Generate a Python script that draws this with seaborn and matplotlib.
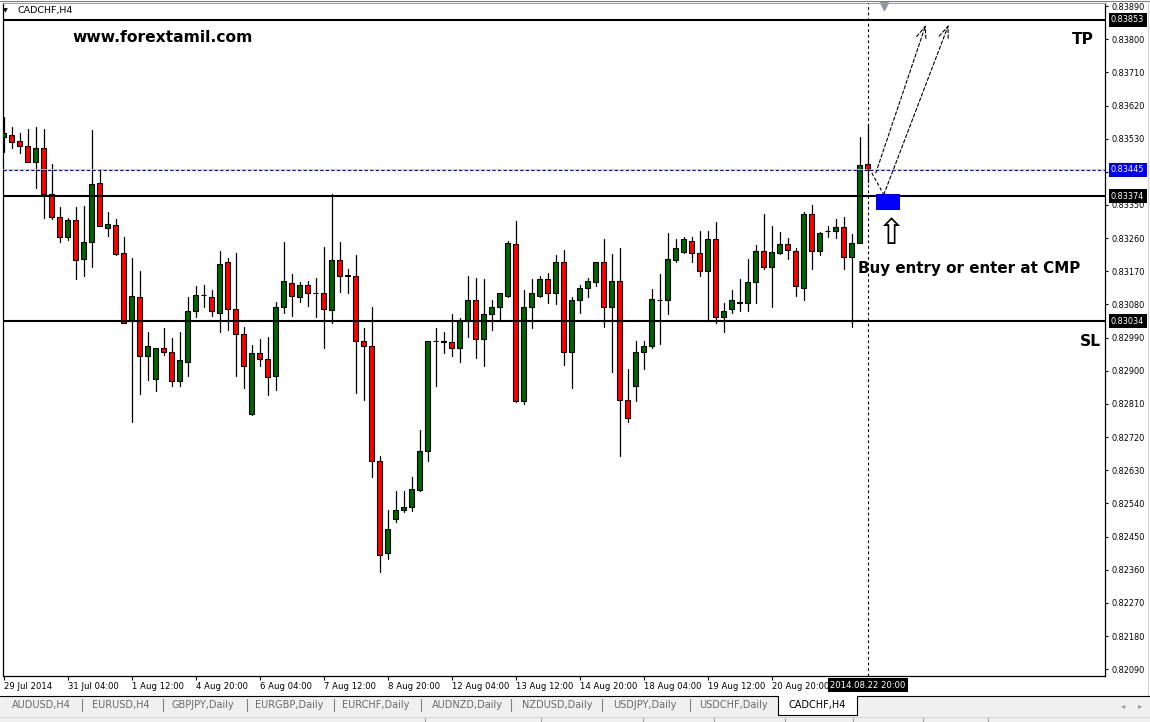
import numpy as np
import pandas as pd
import matplotlib
matplotlib.use("Agg")
import matplotlib.pyplot as plt
import matplotlib.transforms as mtransforms
from matplotlib.patches import Rectangle
from matplotlib.lines import Line2D
import seaborn as sns

# CADCHF H4 candles (first one is cut by the left edge)
opens = [0.83535, 0.83540, 0.83524, 0.83511, 0.83467, 0.83505, 0.83381, 0.83318, 0.83264, 0.83310,
         0.83204, 0.83250, 0.83410, 0.83288, 0.83297, 0.83221, 0.83034, 0.83101, 0.82939, 0.82879,
         0.82963, 0.82950, 0.82871, 0.82925, 0.83061, 0.83107, 0.83101, 0.83058, 0.83194, 0.83069,
         0.83001, 0.82784, 0.82947, 0.82933, 0.82885, 0.83074, 0.83139, 0.83099, 0.83134, 0.83110,
         0.83110, 0.83066, 0.83202, 0.83161, 0.83156, 0.82982, 0.82966, 0.82654, 0.82405, 0.82497,
         0.82521, 0.82530, 0.82576, 0.82681, 0.82982, 0.82977, 0.82977, 0.82963, 0.83034, 0.83093,
         0.82985, 0.83055, 0.83072, 0.83104, 0.83245, 0.82817, 0.83072, 0.83104, 0.83148, 0.83110,
         0.83194, 0.82952, 0.83091, 0.83126, 0.83142, 0.83194, 0.83072, 0.83145, 0.82822, 0.82858,
         0.82950, 0.82966, 0.83093, 0.83091, 0.83202, 0.83223, 0.83253, 0.83221, 0.83172, 0.83259,
         0.83045, 0.83069, 0.83088, 0.83085, 0.83142, 0.83226, 0.83183, 0.83221, 0.83245, 0.83226,
         0.83126, 0.83326, 0.83226, 0.83280, 0.83280, 0.83291, 0.83210, 0.83248, 0.83462]
highs = [0.83589, 0.83562, 0.83546, 0.83557, 0.83562, 0.83557, 0.83462, 0.83345, 0.83316, 0.83345,
         0.83348, 0.83554, 0.83448, 0.83332, 0.83313, 0.83264, 0.83207, 0.83172, 0.83004, 0.82963,
         0.83015, 0.82990, 0.83004, 0.83099, 0.83129, 0.83134, 0.83118, 0.83226, 0.83207, 0.83221,
         0.83020, 0.82969, 0.82985, 0.82993, 0.83088, 0.83250, 0.83164, 0.83142, 0.83145, 0.83153,
         0.83237, 0.83381, 0.83250, 0.83177, 0.83215, 0.83015, 0.83074, 0.82668, 0.82521, 0.82573,
         0.82573, 0.82611, 0.82738, 0.82982, 0.83015, 0.83004, 0.83055, 0.83042, 0.83156, 0.83153,
         0.83148, 0.83093, 0.83110, 0.83253, 0.83307, 0.83118, 0.83148, 0.83156, 0.83166, 0.83215,
         0.83229, 0.83101, 0.83134, 0.83153, 0.83196, 0.83259, 0.83218, 0.83232, 0.82904, 0.82982,
         0.82982, 0.83123, 0.83164, 0.83275, 0.83259, 0.83264, 0.83264, 0.83280, 0.83280, 0.83305,
         0.83085, 0.83120, 0.83150, 0.83204, 0.83242, 0.83326, 0.83294, 0.83278, 0.83261, 0.83234,
         0.83332, 0.83351, 0.83278, 0.83294, 0.83313, 0.83318, 0.83272, 0.83535, 0.83568]
lows = [0.83494, 0.83505, 0.83492, 0.83467, 0.83397, 0.83316, 0.83313, 0.83250, 0.83256, 0.83148,
        0.83158, 0.83183, 0.83294, 0.83267, 0.83215, 0.83031, 0.82760, 0.82836, 0.82874, 0.82844,
        0.82942, 0.82858, 0.82860, 0.82887, 0.83047, 0.83074, 0.83050, 0.83004, 0.83012, 0.82887,
        0.82852, 0.82779, 0.82912, 0.82833, 0.82847, 0.83058, 0.83050, 0.83088, 0.83077, 0.83047,
        0.82963, 0.83031, 0.83115, 0.83112, 0.82841, 0.82820, 0.82611, 0.82353, 0.82389, 0.82489,
        0.82516, 0.82519, 0.82573, 0.82654, 0.82860, 0.82947, 0.82939, 0.82923, 0.82993, 0.82936,
        0.82914, 0.83012, 0.83039, 0.83101, 0.82814, 0.82811, 0.83017, 0.83101, 0.83085, 0.83080,
        0.82917, 0.82852, 0.83058, 0.83099, 0.83131, 0.83020, 0.82898, 0.82668, 0.82760, 0.82817,
        0.82904, 0.82963, 0.82974, 0.83053, 0.83196, 0.83221, 0.83194, 0.83158, 0.83034, 0.83031,
        0.83004, 0.83058, 0.83061, 0.83063, 0.83085, 0.83177, 0.83072, 0.83218, 0.83204, 0.83104,
        0.83091, 0.83177, 0.83213, 0.83264, 0.83261, 0.83177, 0.83020, 0.83248, 0.83413]
closes = [0.83546, 0.83521, 0.83511, 0.83467, 0.83505, 0.83381, 0.83318, 0.83264, 0.83310, 0.83202,
          0.83250, 0.83408, 0.83294, 0.83299, 0.83218, 0.83031, 0.83104, 0.82939, 0.82966, 0.82963,
          0.82950, 0.82871, 0.82928, 0.83061, 0.83107, 0.83106, 0.83061, 0.83191, 0.83069, 0.83001,
          0.82912, 0.82947, 0.82931, 0.82882, 0.83074, 0.83145, 0.83104, 0.83134, 0.83112, 0.83110,
          0.83069, 0.83202, 0.83158, 0.83156, 0.82980, 0.82966, 0.82654, 0.82400, 0.82470, 0.82521,
          0.82530, 0.82578, 0.82681, 0.82982, 0.82982, 0.82980, 0.82963, 0.83036, 0.83093, 0.82985,
          0.83055, 0.83072, 0.83110, 0.83248, 0.82817, 0.83072, 0.83110, 0.83148, 0.83110, 0.83194,
          0.82950, 0.83093, 0.83126, 0.83145, 0.83194, 0.83072, 0.83145, 0.82822, 0.82771, 0.82950,
          0.82966, 0.83096, 0.83093, 0.83204, 0.83232, 0.83259, 0.83221, 0.83172, 0.83259, 0.83045,
          0.83061, 0.83091, 0.83085, 0.83142, 0.83226, 0.83183, 0.83223, 0.83245, 0.83229, 0.83129,
          0.83326, 0.83226, 0.83275, 0.83280, 0.83291, 0.83210, 0.83248, 0.83459, 0.83445]

time_labels = ['29 Jul 2014', '31 Jul 04:00', '1 Aug 12:00', '4 Aug 20:00', '6 Aug 04:00',
               '7 Aug 12:00', '8 Aug 20:00', '12 Aug 04:00', '13 Aug 12:00', '14 Aug 20:00',
               '18 Aug 04:00', '19 Aug 12:00', '20 Aug 20:00']
last_time = '2014.08.22 20:00'
price_ticks = [0.82090, 0.82180, 0.82270, 0.82360, 0.82450, 0.82540, 0.82630, 0.82720, 0.82810,
               0.82900, 0.82990, 0.83080, 0.83170, 0.83260, 0.83350, 0.83440, 0.83530, 0.83620,
               0.83710, 0.83800, 0.83890]
tp_level = 0.83853
entry_level = 0.83374
sl_level = 0.83034
bid_level = 0.83445
tabs = ['AUDUSD,H4', 'EURUSD,H4', 'GBPJPY,Daily', 'EURGBP,Daily', 'EURCHF,Daily',
        'AUDNZD,Daily', 'NZDUSD,Daily', 'USDJPY,Daily', 'USDCHF,Daily', 'CADCHF,H4']

W, H = 1150, 722


def fx(px):
    return px / W


def fy(py):
    return 1 - py / H


sns.set_style('white')
plt.rcParams['font.family'] = ['DejaVu Sans']

fig = plt.figure(figsize=(W / 100, H / 100), dpi=100)
ax = fig.add_axes([fx(3), fy(676), 1102 / W, 673 / H])

df = pd.DataFrame({'open': opens, 'high': highs, 'low': lows, 'close': closes})
df['idx'] = np.arange(len(df))
df['up'] = df['close'] >= df['open']

# wicks, one line per candle
wicks = pd.concat([
    df[['idx', 'high']].rename(columns={'high': 'price'}),
    df[['idx', 'low']].rename(columns={'low': 'price'}),
])
wicks['candle'] = wicks['idx']
sns.lineplot(data=wicks, x='idx', y='price', units='candle', estimator=None,
             color='black', lw=0.9, ax=ax, zorder=2, legend=False)

# bodies
body_low = df[['open', 'close']].min(axis=1)
body_h = (df['close'] - df['open']).abs()
body_col = np.where(df['up'], '#006400', '#ff0000')
ax.bar(df['idx'], body_h, bottom=body_low, width=0.62, color=body_col,
       edgecolor='black', linewidth=0.8, zorder=3)

# levels
for lvl in [tp_level, entry_level, sl_level]:
    ax.axhline(lvl, color='black', lw=1.5, zorder=4)
ax.axhline(bid_level + 0.00003, color='#c8c8c8', lw=0.6, zorder=4)
ax.axhline(bid_level, color='#0000ff', lw=0.8, ls=(0, (3, 2)), zorder=4)
ax.axvline(len(df) - 1, color='black', lw=0.8, ls=(0, (2.5, 2.5)), zorder=4)

bx = mtransforms.blended_transform_factory(ax.transData, ax.transAxes)
ax.plot([110], [0.996], marker='v', ms=6, color='#8a96a3', transform=bx, clip_on=False)

# entry box and the projected moves
ax.add_patch(Rectangle((109, 0.83337), 3, 0.00044, fc='#0000ff', ec='none', zorder=5))
dash = (0, (3, 2))
akw = dict(arrowstyle='->,head_length=0.9,head_width=0.35', color='black', lw=0.8,
           ls=dash, shrinkA=0, shrinkB=0)
ax.annotate('', xy=(115.25, 0.83839), xytext=(109, 0.83437), arrowprops=akw)
ax.plot([108.5, 110], [0.83437, 0.83378], color='black', lw=0.8, ls=dash)
ax.annotate('', xy=(118.1, 0.83839), xytext=(110, 0.83378), arrowprops=akw)

ax.set_xlim(-0.1, 137.65)
ax.set_ylim(0.820716, 0.838982)
ax.set_xlabel('')
ax.set_ylabel('')

# price scale on the right; the 0.83440 label sits under the bid box
ax.set_yticks(price_ticks)
ax.set_yticklabels(['' if abs(p - bid_level) < 0.0001 else f'{p:.5f}' for p in price_ticks])
ax.tick_params(axis='y', left=False, right=True, labelleft=False, labelright=True,
               length=2.5, width=0.8, pad=2.2, labelsize=5.9, colors='black')
ax.set_xticks(np.arange(len(time_labels)) * 8)
ax.set_xticklabels(time_labels, ha='left')
ax.tick_params(axis='x', bottom=True, length=3, width=0.8, pad=1.5, labelsize=6.1, colors='black')

for s in ['left', 'right', 'bottom']:
    ax.spines[s].set_color('black')
    ax.spines[s].set_linewidth(0.9)
ax.spines['top'].set_color('#a0a0a0')
ax.spines['top'].set_linewidth(0.8)

bidx = mtransforms.blended_transform_factory(ax.transAxes, ax.transData)
for lvl, col in [(tp_level, 'black'), (entry_level, 'black'), (sl_level, 'black'), (bid_level, '#0000ff')]:
    ax.annotate(f'{lvl:.5f}', xy=(1, lvl), xycoords=bidx, xytext=(4.3, 0), textcoords='offset points',
                ha='left', va='center', fontsize=5.9, color='white', zorder=10, annotation_clip=False,
                bbox=dict(boxstyle='square,pad=0.3', fc=col, ec='none'))

ax.text(len(df) - 1, -0.0134, last_time, transform=bx, ha='center', va='center', fontsize=6.1,
        color='white', clip_on=False, bbox=dict(boxstyle='square,pad=0.3', fc='black', ec='none'))

# texts on the chart
bold = dict(fontsize=11.2, fontweight='bold', va='center', ha='left', color='black')
fig.text(fx(72), fy(38), 'www.forextamil.com', **bold)
fig.text(fx(1072), fy(40), 'TP', **bold)
fig.text(fx(1080), fy(341), 'SL', **bold)
fig.text(fx(858), fy(268), 'Buy entry or enter at CMP', fontsize=10.9, fontweight='bold',
         va='center', ha='left', color='black')
fig.text(fx(891), fy(234), '\u21e7', fontsize=25, ha='center', va='center', color='black')

fig.text(fx(5.5), fy(11), '\u25bc', fontsize=4.5, ha='center', va='center', color='black')
fig.text(fx(18), fy(11), 'CADCHF,H4', fontsize=6.8, ha='left', va='center', color='black')

# window frame and tab strip
fig.lines.append(Line2D([0, 1], [fy(1), fy(1)], transform=fig.transFigure, color='#808080', lw=0.8))
fig.lines.append(Line2D([fx(1148), fx(1148)], [fy(0), fy(696)], transform=fig.transFigure,
                        color='#d4d4d4', lw=0.8))
fig.patches.append(Rectangle((0, 0), 1, fy(696), transform=fig.transFigure, fc='#f0f0f0', ec='none'))
fig.lines.append(Line2D([0, fx(778)], [fy(696), fy(696)], transform=fig.transFigure, color='black', lw=0.8))
fig.lines.append(Line2D([fx(857), 1], [fy(696), fy(696)], transform=fig.transFigure, color='black', lw=0.8))
fig.patches.append(Rectangle((fx(778), fy(715)), 79 / W, 19 / H, transform=fig.transFigure,
                             fc='white', ec='none'))
fig.lines.append(Line2D([fx(778), fx(778), fx(857), fx(857)], [fy(696), fy(715), fy(715), fy(696)],
                        transform=fig.transFigure, color='black', lw=0.8))
fig.lines.append(Line2D([0, 1], [fy(716.5), fy(716.5)], transform=fig.transFigure, color='#d0d0d0', lw=0.6))

tab_x = [41, 121, 203, 289, 376, 467, 557, 645, 733, 817]
sep_x = [82, 163, 247, 334, 421, 511, 602, 690]
for t, x in zip(tabs, tab_x):
    active = t == tabs[-1]
    fig.text(fx(x), fy(705), t, fontsize=7.0, ha='center', va='center',
             color='black' if active else '#6a6a6a')
for x in sep_x:
    fig.lines.append(Line2D([fx(x), fx(x)], [fy(699), fy(711)], transform=fig.transFigure,
                            color='#808080', lw=0.8))
fig.text(fx(1123), fy(706), '\u25c2', fontsize=6, ha='center', va='center', color='#9a9a9a')
fig.text(fx(1140), fy(706), '\u25b8', fontsize=6, ha='center', va='center', color='#9a9a9a')
for x in [425, 541, 643, 714, 785, 853, 923, 988]:
    fig.lines.append(Line2D([fx(x), fx(x)], [fy(718), fy(722)], transform=fig.transFigure,
                            color='#a0a0a0', lw=0.8))

fig.savefig('out.png', dpi=100)
